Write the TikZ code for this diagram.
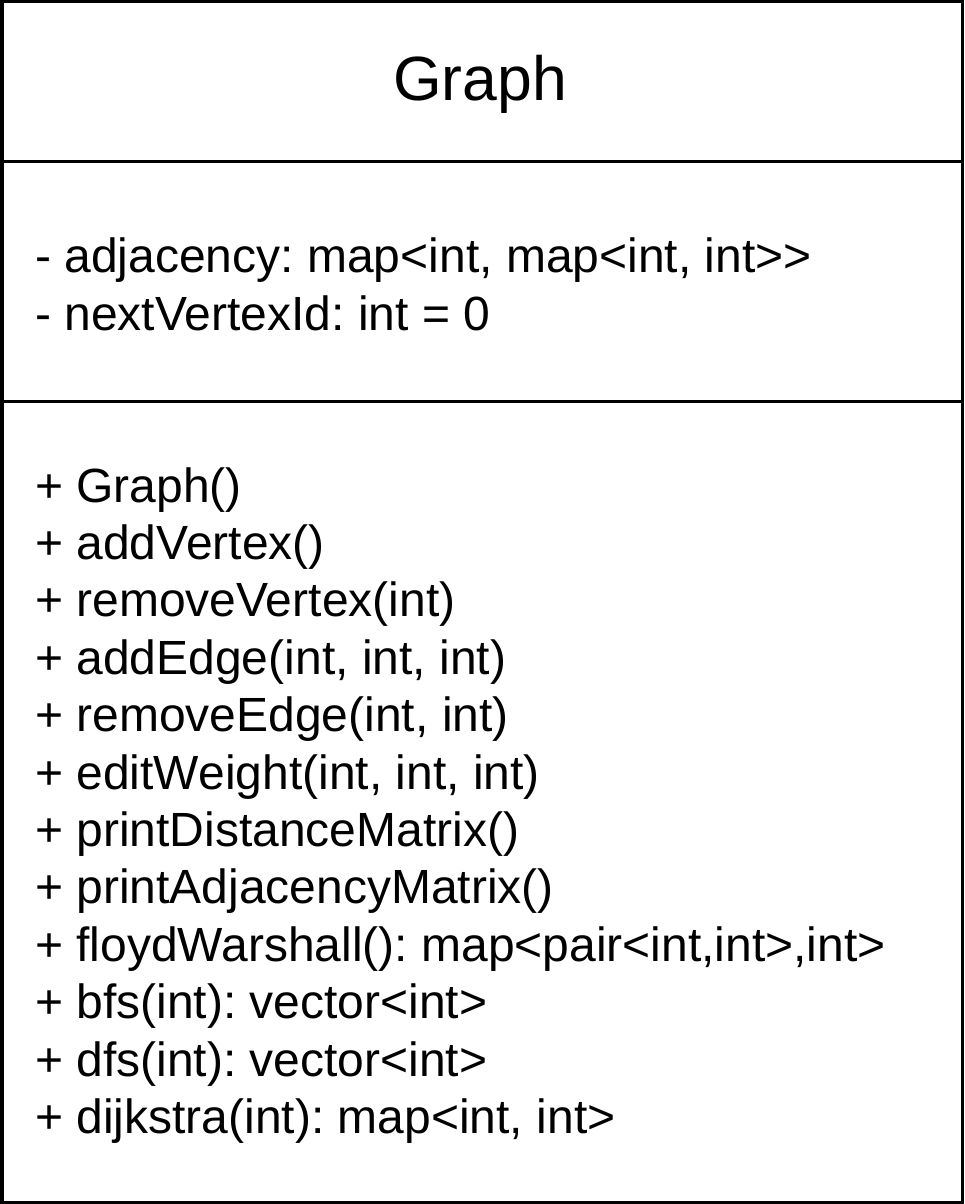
\documentclass[tikz,border=0pt]{standalone}
\usepackage{fontspec}
\setmainfont{Liberation Sans}
\frenchspacing
\begin{document}
\begin{tikzpicture}[x=1pt,y=-1pt,
  member/.style={anchor=base west,inner sep=0pt,font=\fontsize{48}{57}\selectfont},
  titletext/.style={anchor=base,inner sep=0pt,font=\fontsize{62.5}{74}\selectfont},
  frame/.style={draw=black,line width=3.5pt}]
\useasboundingbox (0,0) rectangle (964,1204);
\draw[frame] (1.75,1.75) rectangle (962.25,1202.25);
\draw[frame] (0,161.5) -- (964,161.5);
\draw[frame] (0,401.5) -- (964,401.5);
\node[titletext] (title) at (480,101) {Graph};
\node[member] (a1) at (35,272) {- adjacency: map<int, map<int, int>{}>};
\node[member] (a2) at (35,330) {- nextVertexId: int = 0};
\foreach \t [count=\i from 0] in {%
  {+ Graph()},{+ addVertex()},{+ removeVertex(int)},{+ addEdge(int, int, int)},%
  {+ removeEdge(int, int)},{+ editWeight(int, int, int)},{+ printDistanceMatrix()},%
  {+ printAdjacencyMatrix()},{+ floydWarshall(): map<pair<int,int>,int>},%
  {+ bfs(int): vector<int>},{+ dfs(int): vector<int>},{+ dijkstra(int): map<int, int>}}
  \node[member] (m\i) at (35,502+57.4*\i) {\t};
\end{tikzpicture}
\end{document}
